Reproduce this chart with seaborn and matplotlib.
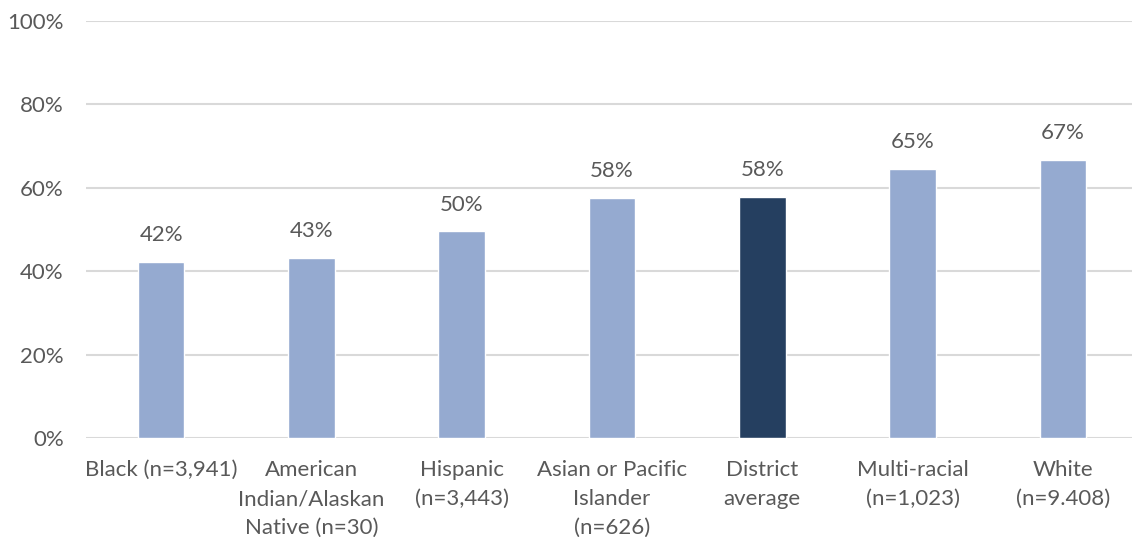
import matplotlib
matplotlib.use("Agg")
import matplotlib.pyplot as plt
import seaborn as sns
import pandas as pd
from matplotlib.ticker import FuncFormatter

# Share of students (%) by race/ethnicity group
groups = [
    "Black (n=3,941)",
    "American\nIndian/Alaskan\nNative (n=30)",
    "Hispanic\n(n=3,443)",
    "Asian or Pacific\nIslander\n(n=626)",
    "District\naverage",
    "Multi-racial\n(n=1,023)",
    "White\n(n=9.408)",
]
percent = [42.2, 43.2, 49.6, 57.6, 57.9, 64.6, 66.7]
is_average = [False, False, False, False, True, False, False]

LIGHT = "#95AAD0"
DARK = "#253F60"
TEXT = "#595959"
GRID = "#D9D9D9"

sns.set_theme(style="white")
plt.rcParams["font.family"] = ["Lato", "DejaVu Sans"]

df = pd.DataFrame({"group": groups, "percent": percent,
                   "kind": ["avg" if a else "grp" for a in is_average]})

fig = plt.figure(figsize=(11.32, 5.37), dpi=100)
ax = fig.add_axes([86 / 1132, 99 / 537, 1052 / 1132, 417 / 537])

sns.barplot(data=df, x="group", y="percent", hue="kind",
            palette={"grp": LIGHT, "avg": DARK}, dodge=False,
            width=0.31, legend=False, ax=ax, saturation=1)

ax.set_ylim(0, 100)
ax.set_yticks(range(0, 101, 20))
ax.yaxis.set_major_formatter(FuncFormatter(lambda v, _: f"{v:.0f}%"))
ax.grid(axis="y", color=GRID, linewidth=1.5)
ax.set_axisbelow(True)
for s in ax.spines.values():
    s.set_visible(False)
ax.set_xlabel("")
ax.set_ylabel("")
ax.tick_params(axis="y", length=0, pad=16, labelsize=16, labelcolor=TEXT)
ax.tick_params(axis="x", length=0, pad=16, labelsize=16, labelcolor=TEXT)
for lbl in ax.get_xticklabels():
    lbl.set_linespacing(1.55)
    lbl.set_verticalalignment("top")

for i, v in enumerate(percent):
    ax.annotate(f"{v:.0f}%", xy=(i, v), xytext=(0, 12), textcoords="offset points",
                ha="center", va="bottom", fontsize=16, color=TEXT)

fig.savefig("out.png", dpi=100)
